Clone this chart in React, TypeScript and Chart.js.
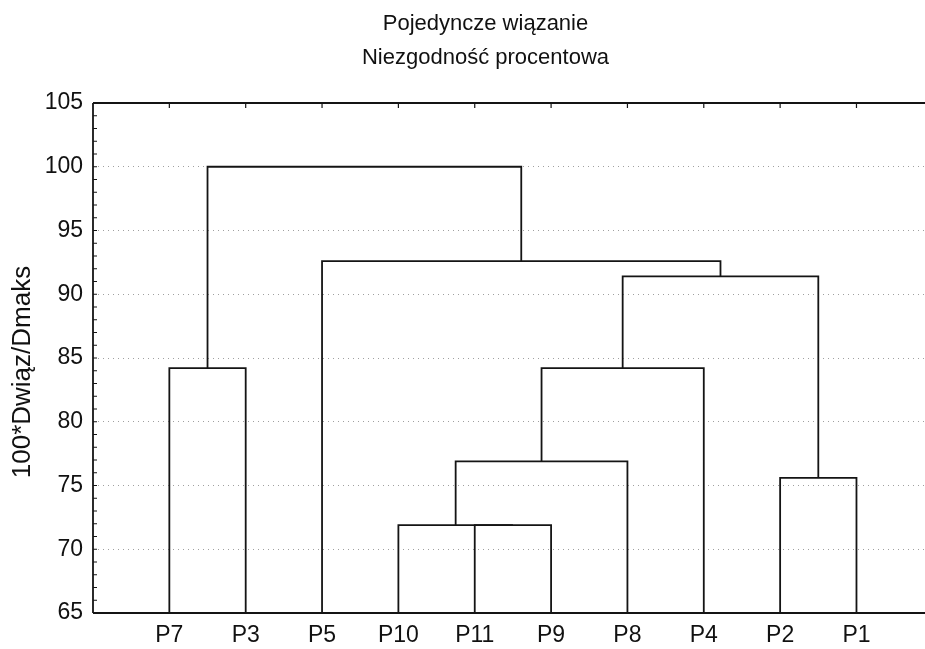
import React, { useEffect, useRef } from "react";
import { Chart, registerables } from "chart.js";

Chart.register(...registerables);

// ---- data ----
const titleLines = ["Pojedyncze wiązanie", "Niezgodność procentowa"];
const yAxisTitle = "100*Dwiąz/Dmaks";
const leaves = ["P7", "P3", "P5", "P10", "P11", "P9", "P8", "P4", "P2", "P1"];
const leafPositions = [1, 2, 3, 4, 5, 6, 7, 8, 9, 10];
// nodes 0..9 are leaves, node 10+k is merge k
const mergeLeft = [4, 3, 11, 12, 8, 13, 2, 0, 17];
const mergeRight = [5, 10, 6, 7, 9, 14, 15, 1, 16];
const mergeHeights = [71.9, 71.9, 76.9, 84.2, 75.6, 91.4, 92.6, 84.2, 100];
const yMin = 65;
const yMax = 105;
const yStep = 5;
const yMinorStep = 1;
const xMin = 0;
const xMax = 11.5;

const FONT = "'Liberation Sans', Arial, Helvetica, sans-serif";
const INK = "#141414";

function buildDatasets() {
  const nodeX: number[] = leafPositions.slice();
  const nodeH: number[] = leaves.map(() => yMin);
  const sets: any[] = [];
  mergeHeights.forEach((h, k) => {
    const l = mergeLeft[k];
    const r = mergeRight[k];
    const xl = nodeX[l];
    const xr = nodeX[r];
    sets.push({
      label: "link" + k,
      data: [
        { x: xl, y: nodeH[l] },
        { x: xl, y: h },
        { x: xr, y: h },
        { x: xr, y: nodeH[r] },
      ],
      showLine: true,
      borderColor: INK,
      borderWidth: 1.8,
      pointRadius: 0,
      tension: 0,
      fill: false,
    });
    nodeX.push((xl + xr) / 2);
    nodeH.push(h);
  });
  return sets;
}

const framePlugin = {
  id: "frame",
  afterDatasetsDraw(chart: any) {
    const { ctx, chartArea, scales } = chart;
    const { left, right, top, bottom } = chartArea;
    ctx.save();
    ctx.strokeStyle = INK;
    ctx.lineWidth = 1.8;
    ctx.beginPath();
    ctx.moveTo(left, top);
    ctx.lineTo(left, bottom);
    ctx.moveTo(left, bottom);
    ctx.lineTo(right, bottom);
    ctx.moveTo(left, top);
    ctx.lineTo(right, top);
    ctx.stroke();
    ctx.lineWidth = 1.2;
    ctx.beginPath();
    for (let v = yMin; v <= yMax; v += yMinorStep) {
      const y = scales.y.getPixelForValue(v);
      ctx.moveTo(left, y);
      ctx.lineTo(left + 4, y);
    }
    leafPositions.forEach((p) => {
      const x = scales.x.getPixelForValue(p);
      ctx.moveTo(x, top);
      ctx.lineTo(x, top + 5);
    });
    ctx.stroke();
    // vertical axis title
    ctx.fillStyle = "#111";
    ctx.font = "26px " + FONT;
    ctx.textAlign = "center";
    ctx.textBaseline = "middle";
    ctx.translate(23, 372);
    ctx.rotate(-Math.PI / 2);
    ctx.fillText(yAxisTitle, 0, 0);
    ctx.restore();
  },
};

export default function App() {
  const ref = useRef<HTMLCanvasElement | null>(null);
  useEffect(() => {
    if (!ref.current) return;
    const chart = new Chart(ref.current, {
      type: "scatter",
      data: { datasets: buildDatasets() },
      options: {
        animation: false,
        responsive: false,
        devicePixelRatio: 1,
        layout: { padding: { left: 0, top: 0, right: 7, bottom: 0 } },
        plugins: {
          legend: { display: false },
          tooltip: { enabled: false },
          title: {
            display: true,
            text: titleLines,
            color: "#111",
            font: { family: FONT, size: 22, weight: "normal", lineHeight: "34px" },
            padding: { top: 7, bottom: 28 },
          },
        },
        scales: {
          x: {
            type: "linear",
            min: xMin,
            max: xMax,
            afterFit(scale: any) {
              scale.height = 36;
            },
            afterBuildTicks(scale: any) {
              scale.ticks = leafPositions.map((p) => ({ value: p }));
            },
            grid: { display: false, drawTicks: false },
            border: { display: false },
            ticks: {
              autoSkip: false,
              maxRotation: 0,
              padding: 9,
              color: "#111",
              font: { family: FONT, size: 23 },
              callback: (v: any) => {
                const i = leafPositions.indexOf(Number(v));
                return i >= 0 ? leaves[i] : "";
              },
            },
          },
          y: {
            type: "linear",
            min: yMin,
            max: yMax,
            afterFit(scale: any) {
              scale.width = 93;
            },
            grid: {
              drawTicks: false,
              lineWidth: 1,
              color: (c: any) =>
                c.tick && c.tick.value > yMin && c.tick.value < yMax ? "#a0a0a0" : "rgba(0,0,0,0)",
            },
            border: { display: false, dash: [1, 4] },
            ticks: {
              stepSize: yStep,
              padding: 10,
              color: "#111",
              font: { family: FONT, size: 23 },
            },
            title: { display: false, text: yAxisTitle },
          },
        },
      },
      plugins: [framePlugin],
    });
    return () => chart.destroy();
  }, []);
  return (
    <div
      style={{
        position: "fixed",
        left: 0,
        top: 0,
        width: 925,
        height: 649,
        overflow: "hidden",
        background: "#fff",
      }}
    >
      <canvas ref={ref} width={978} height={649} style={{ display: "block" }} />
    </div>
  );
}
